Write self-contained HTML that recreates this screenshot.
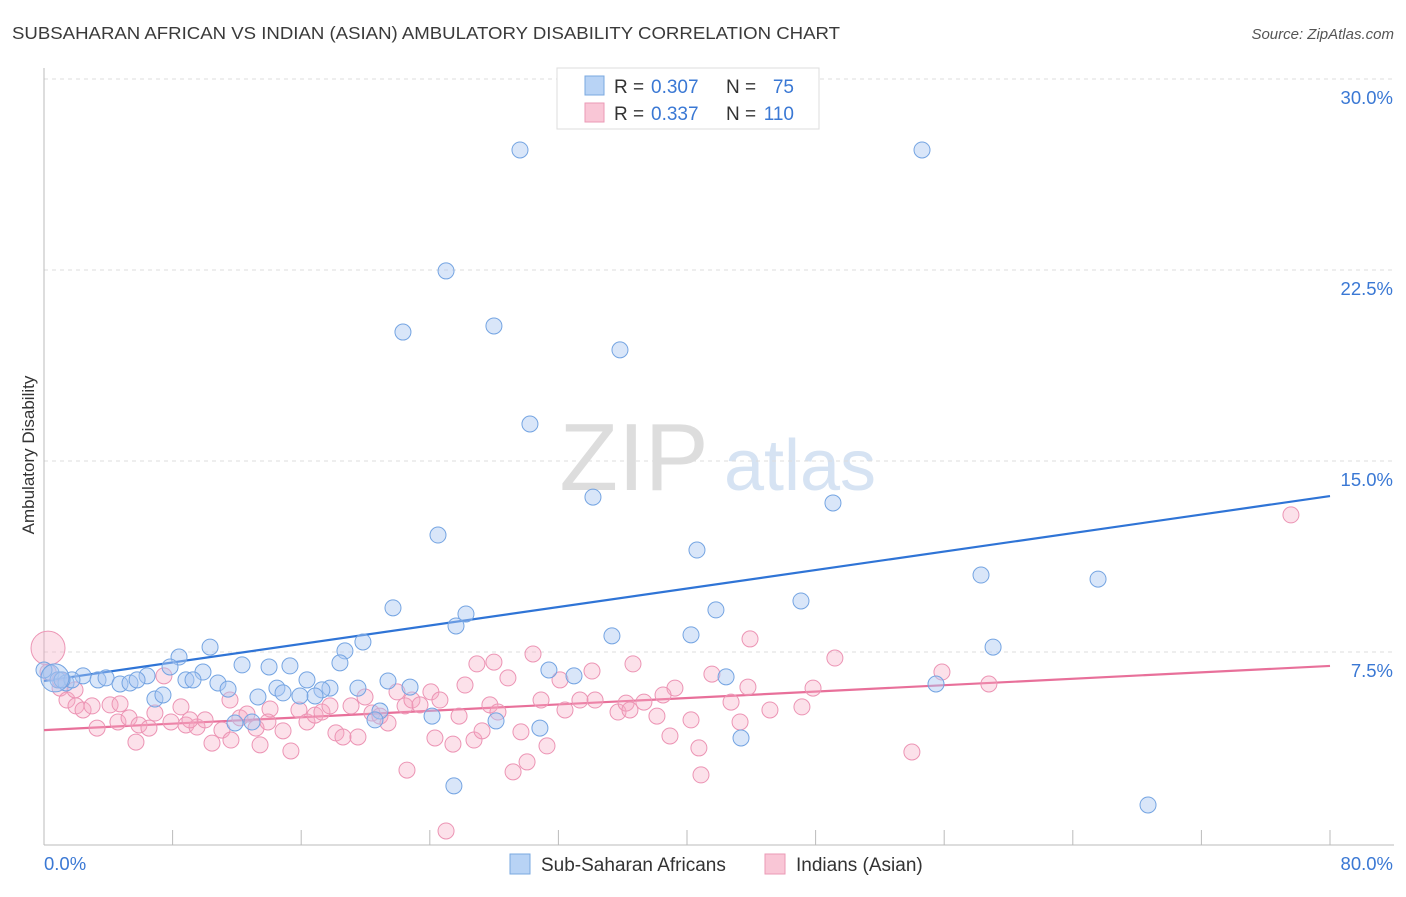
<!DOCTYPE html>
<html><head><meta charset="utf-8"><style>
body{margin:0;background:#fff;font-family:"Liberation Sans",sans-serif;}
svg text{font-family:"Liberation Sans",sans-serif;}
</style></head><body>
<svg width="1406" height="892">
<text x="12" y="39" font-size="17.5" fill="#3a3a3a" textLength="828" lengthAdjust="spacingAndGlyphs">SUBSAHARAN AFRICAN VS INDIAN (ASIAN) AMBULATORY DISABILITY CORRELATION CHART</text>
<text x="1394" y="39" font-size="15" fill="#555" font-style="italic" text-anchor="end">Source: ZipAtlas.com</text>
<text x="34" y="455" font-size="17" fill="#333" text-anchor="middle" transform="rotate(-90 34 455)">Ambulatory Disability</text>
<g><text x="634" y="490" font-size="96" fill="#ddd" font-family="Liberation Serif" text-anchor="middle">ZIP</text><text x="800" y="490" font-size="72" fill="#d6e3f3" text-anchor="middle">atlas</text></g>
<g id="grid"></g><g id="axes"></g><g id="trends"></g><g id="pts"></g>
<g>
<rect x="557" y="68" width="262" height="61" fill="#fff" stroke="#ddd"/>
<rect x="585" y="76" width="19" height="19" fill="#b8d3f5" stroke="#7aa8e0"/>
<rect x="585" y="103" width="19" height="19" fill="#f9c6d6" stroke="#eb9ab6"/>
<text x="614" y="93" font-size="19" fill="#333">R =</text><text x="651" y="93" font-size="19" fill="#3a78d4">0.307</text>
<text x="726" y="93" font-size="19" fill="#333">N =</text><text x="794" y="93" font-size="19" fill="#3a78d4" text-anchor="end">75</text>
<text x="614" y="120" font-size="19" fill="#333">R =</text><text x="651" y="120" font-size="19" fill="#3a78d4">0.337</text>
<text x="726" y="120" font-size="19" fill="#333">N =</text><text x="794" y="120" font-size="19" fill="#3a78d4" text-anchor="end">110</text>
</g>
<g>
<rect x="510" y="854" width="20" height="20" fill="#b8d3f5" stroke="#7aa8e0"/>
<text x="541" y="871" font-size="19" fill="#333">Sub-Saharan Africans</text>
<rect x="765" y="854" width="20" height="20" fill="#f9c6d6" stroke="#eb9ab6"/>
<text x="796" y="871" font-size="19" fill="#333">Indians (Asian)</text>
</g>
</svg>
<script>
const yTicks=[7.5,15,22.5,30];
const yTickLabels=["7.5%","15.0%","22.5%","30.0%"];
const xTicks=[0,8,16,24,32,40,48,56,64,72,80];
const blueX=[29.61,54.62,25.01,22.33,27.99,35.83,30.23,34.15,49.08,24.51,40.62,58.29,65.57,21.71,26.25,25.63,41.80,47.09,35.33,40.25,19.84,10.33,59.04,18.72,8.40,18.41,12.32,14.00,15.30,7.84,9.89,31.41,32.97,42.43,6.41,2.43,3.36,3.86,4.73,5.35,5.79,8.83,9.27,10.82,11.45,16.36,21.40,22.77,55.49,14.49,17.79,19.53,17.29,16.86,15.92,13.31,14.87,6.90,7.40,0.44,0.87,1.37,1.74,0,20.90,24.14,11.88,12.94,20.59,28.12,30.85,43.36,25.50,68.68,1.12,0.68];
const blueY=[27.92,27.92,23.17,20.77,21.01,20.07,17.16,14.29,14.06,12.80,12.21,11.23,11.07,9.94,9.70,9.23,9.86,10.21,8.84,8.88,8.60,8.40,8.40,8.25,8.01,7.78,7.70,7.62,7.66,7.62,7.42,7.50,7.27,7.23,7.27,7.27,7.11,7.19,6.95,6.99,7.11,7.11,7.11,6.99,6.75,7.11,7.07,6.83,6.95,6.79,6.79,6.79,6.72,6.48,6.48,6.44,6.60,6.36,6.52,7.38,7.11,6.99,7.11,7.50,5.89,5.69,5.42,5.46,5.54,5.50,5.22,4.83,2.95,2.20,7.11,7.19];
const pinkX=[77.57,43.92,49.20,55.86,58.78,30.42,27.99,26.93,36.64,34.09,41.55,28.86,26.19,32.10,39.25,43.79,47.84,7.46,0.25,0.25,1.00,1.43,1.99,2.43,2.99,4.11,4.60,3.30,5.29,5.91,6.53,5.72,6.90,7.90,8.52,8.83,9.52,10.02,10.45,11.07,11.63,12.19,12.63,13.19,13.44,14.06,13.93,14.87,15.36,15.86,16.36,16.86,17.29,17.79,18.16,18.60,19.10,19.53,19.97,20.40,20.90,21.40,21.96,22.46,22.89,23.39,24.07,22.58,24.32,25.01,25.44,25.82,26.75,27.25,27.74,28.24,29.18,29.67,30.05,30.92,31.29,32.41,34.28,35.71,36.21,37.32,38.13,38.51,38.94,40.25,40.74,40.87,42.74,43.30,45.16,47.15,53.99,1.00,1.93,4.73,9.08,24.63,33.34,36.45,11.57];
const pinkY=[13.59,8.72,7.97,7.42,6.95,8.13,7.81,7.74,7.74,7.46,7.34,7.19,6.91,7.11,6.79,6.83,6.79,7.27,8.36,7.42,6.79,6.32,6.09,5.93,6.09,6.13,5.46,5.22,5.62,5.34,5.22,4.67,5.81,5.46,6.05,5.34,5.26,5.54,4.63,5.14,4.75,5.62,5.77,5.22,4.56,5.97,5.46,5.11,4.32,5.93,5.46,5.73,5.85,6.09,5.03,4.87,6.09,4.87,6.44,5.81,5.69,5.42,6.64,6.09,6.32,6.13,6.64,3.57,4.83,1.18,4.59,5.69,4.75,5.11,6.13,5.85,3.50,5.07,3.89,6.32,4.52,5.93,6.32,5.85,6.20,6.24,5.69,6.52,4.91,5.54,4.44,3.38,6.24,5.46,5.93,6.05,4.28,7.11,6.72,6.17,5.54,6.32,6.32,5.93,6.32];
const blueTrend=[7.07,14.33];
const pinkTrend=[5.14,7.66];
const NS='http://www.w3.org/2000/svg';
const xS=v=>44+v/80*1286;
const yS=v=>861-v/7.5*191;
function mk(t,a,p){const e=document.createElementNS(NS,t);for(const k in a)e.setAttribute(k,a[k]);document.getElementById(p).appendChild(e);return e;}
yTicks.forEach((t,i)=>{
 const g=mk('line',{x1:44,x2:1394,y1:yS(t)-18,y2:yS(t)-18,stroke:'#ddd','stroke-dasharray':'4,4'},'grid');
 
 
 const l=mk('text',{x:1393,y:yS(t)+7,'font-size':18.5,fill:'#3a78d4','text-anchor':'end'},'grid');
 l.textContent=yTickLabels[i];
 
 
});
const ax=mk('line',{x1:44,x2:1394,y1:845,y2:845,stroke:'#bbb'},'axes');


const ay=mk('line',{x1:44,x2:44,y1:68,y2:845,stroke:'#bbb'},'axes');


xTicks.forEach(t=>{
 const e=mk('line',{x1:xS(t),x2:xS(t),y1:830,y2:845,stroke:'#bbb'},'axes');
 
 
});
const x0=mk('text',{x:44,y:870,'font-size':18.5,fill:'#3a78d4'},'axes');x0.textContent='0.0%';


const x1=mk('text',{x:1393,y:870,'font-size':18.5,fill:'#3a78d4','text-anchor':'end'},'axes');x1.textContent='80.0%';


function pts(X,Y,fill,stroke,name){X.forEach((x,i)=>{
 const big=(name==='pink-point'&&i===18)||(name==='blue-point'&&i===X.length-1);
 const c=mk('circle',{cx:xS(x),cy:yS(Y[i]),r:big?(name==='pink-point'?17:14):8,fill:fill,stroke:stroke,'stroke-width':1},'pts');
 
 
});}
pts(pinkX,pinkY,'rgba(246,170,196,0.35)','#ec94b4','pink-point');
pts(blueX,blueY,'rgba(170,200,242,0.45)','#74a4e2','blue-point');
const tb=mk('line',{x1:xS(0),x2:xS(80),y1:yS(blueTrend[0]),y2:yS(blueTrend[1]),stroke:'#2f74d6','stroke-width':2.2},'trends');


const tp=mk('line',{x1:xS(0),x2:xS(80),y1:yS(pinkTrend[0]),y2:yS(pinkTrend[1]),stroke:'#e8709a','stroke-width':2.2},'trends');


</script>
</body></html>
